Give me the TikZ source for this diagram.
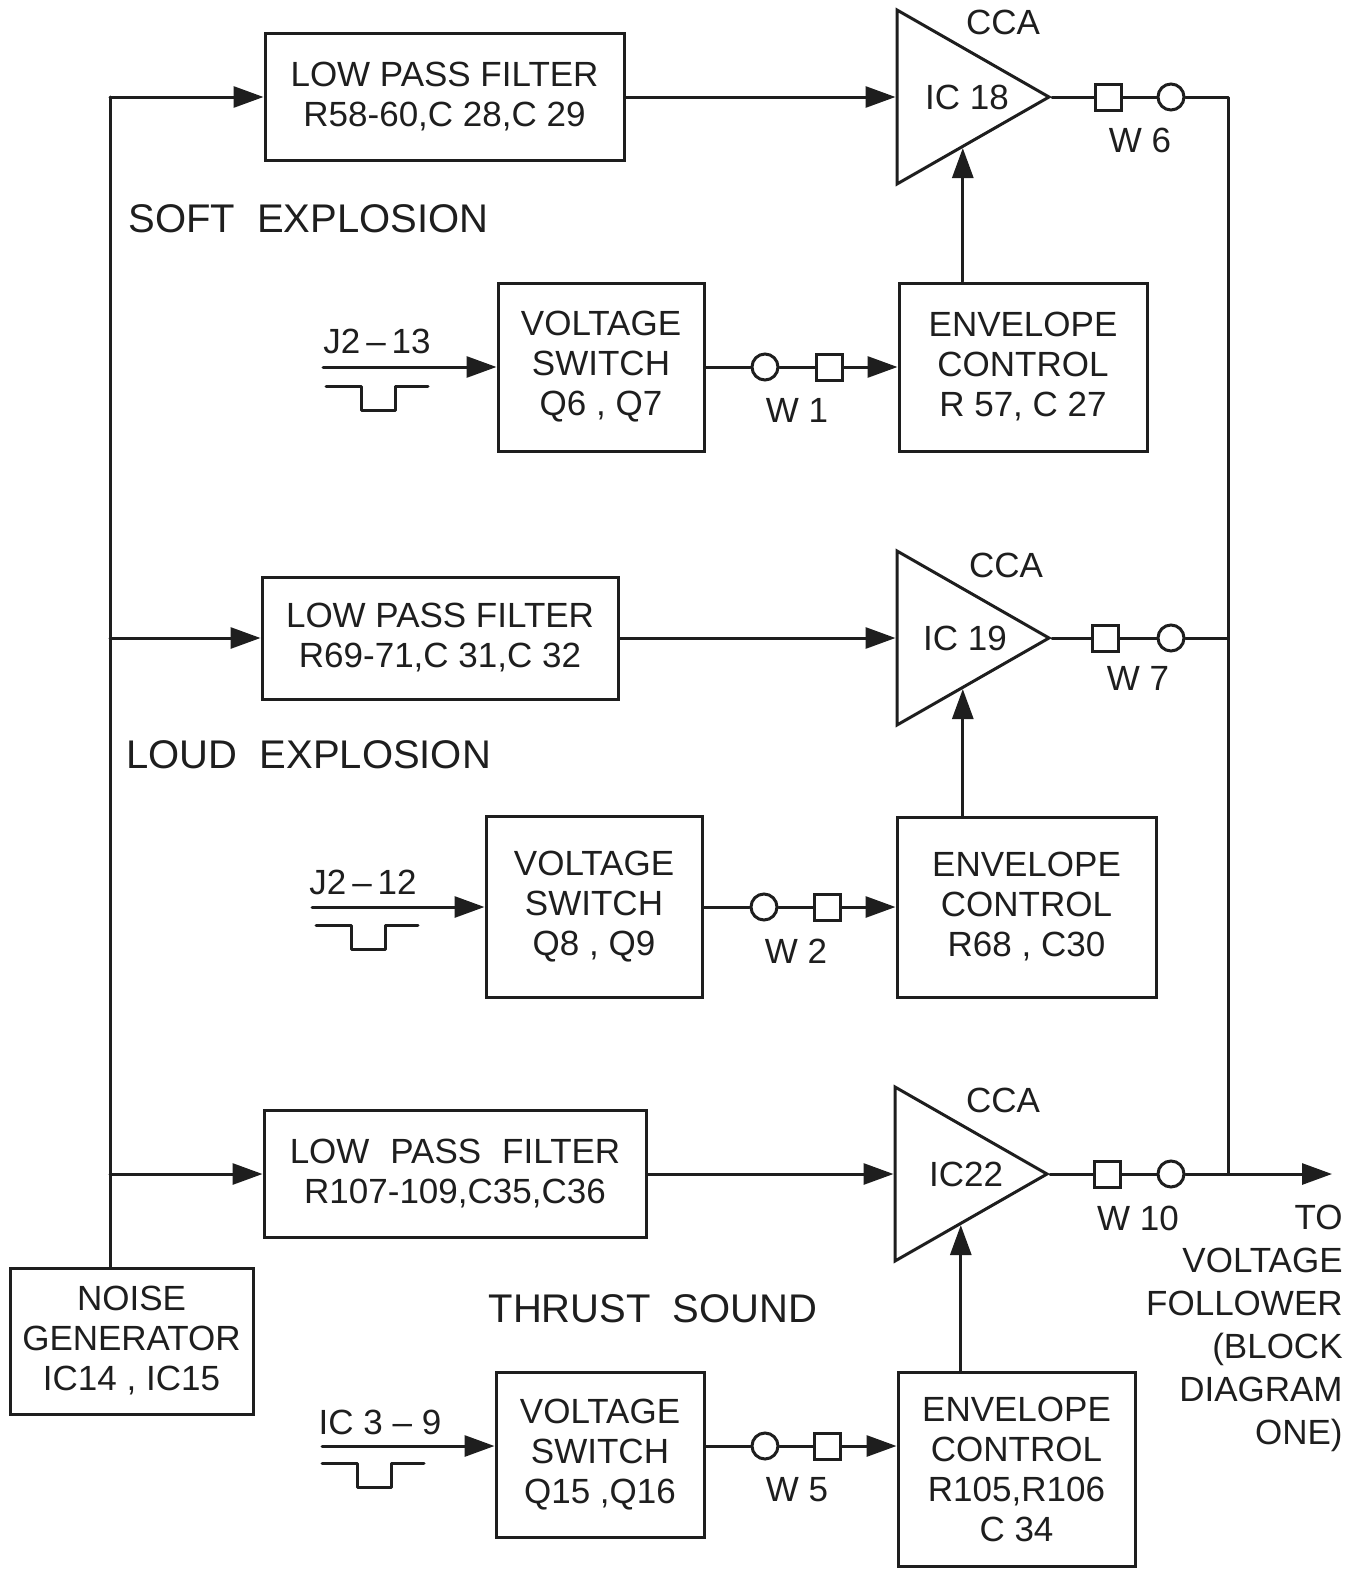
\documentclass[tikz,border=0pt]{standalone}
\usepackage{fontspec}
\setmainfont{Liberation Sans}
\usepackage{xcolor}
\usetikzlibrary{calc,arrows.meta,shapes.geometric}
\definecolor{ink}{HTML}{1E1E1E}
\definecolor{paper}{HTML}{FFFFFF}
\tikzset{
  wire/.style={draw=ink, line width=1.5pt, line cap=round, line join=round},
  conn/.style={wire, -{Triangle[length=15pt,width=10.5pt]}},
  blk/.style={draw=ink, line width=1.5pt, align=center, inner sep=0pt, text=ink, font=\fontsize{17.5}{20}\selectfont},
  amp/.style={draw=ink, line width=1.5pt, isosceles triangle, isosceles triangle apex angle=60,
    isosceles triangle stretches, minimum width=87pt, minimum height=76pt, inner sep=0pt},
  jsq/.style={draw=ink, fill=paper, line width=1.5pt, minimum size=13pt, inner sep=0pt},
  jring/.style={draw=ink, fill=paper, circle, line width=1.5pt, minimum size=13pt, inner sep=0pt},
  lab/.style={text=ink, inner sep=0pt, font=\fontsize{17.5}{20}\selectfont},
  head/.style={text=ink, inner sep=0pt, font=\fontsize{20}{24}\selectfont},
}
\begin{document}
\begin{tikzpicture}[x=0.5pt,y=-0.5pt]
  \path[fill=paper, use as bounding box] (0,0) rectangle (1360,1569);

  % noise source and feed bus
  \node[blk, minimum width=121.5pt, minimum height=73pt] (noise) at (131.5,1341) {NOISE\\GENERATOR\\IC14 , IC15};
  \coordinate (busA) at (110,97);
  \coordinate (busB) at (110,638);
  \coordinate (busC) at (110,1174);
  \draw[wire] (busA |- noise.north) -- (busA);

  % soft explosion
  \node[blk, minimum width=179.5pt, minimum height=63.5pt] (lpfA) at (444.5,97) {LOW PASS FILTER\\R58-60,C 28,C 29};
  \node[amp, anchor=apex] (ccaA) at (1052,97) {};
  \node[lab] (icA) at (967,97) {IC 18};
  \node[lab] (capA) at (1003,22) {CCA};
  \node[jsq] (sqA) at (1108,97) {};
  \node[jring] (ringA) at (1171,97) {};
  \node[lab] (wA) at (1140,140) {W 6};
  \node[head, anchor=west] (soft) at (128,219) {SOFT\ \ EXPLOSION};
  \node[blk, minimum width=103pt, minimum height=84pt] (vswA) at (601,367) {VOLTAGE\\SWITCH\\Q6 , Q7};
  \node[blk, minimum width=124pt, minimum height=84pt] (envA) at (1023,367) {ENVELOPE\\CONTROL\\R 57, C 27};
  \node[jring] (rinA) at (765,367) {};
  \node[jsq] (sinA) at (829,367) {};
  \node[lab] (w1) at (797,410) {W 1};
  \node[lab] (jA) at (377,341) {J2\,–\,13};
  \coordinate (inA) at (323,367);
  \coordinate (pulseA) at (326,386);

  \draw[conn] (busA) -- (lpfA.west);
  \draw[conn] (lpfA.east) -- (ccaA.west);
  \draw[wire] (ccaA.apex) -- (sqA) -- (ringA);
  \draw[conn] (inA) -- (vswA.west);
  \draw[wire] (vswA.east) -- (rinA) -- (sinA);
  \draw[conn] (sinA) -- (envA.west);
  \coordinate (hitA) at ($(ccaA.apex)!0.57!(ccaA.right corner)$);
  \draw[conn] (hitA |- envA.north) -- (hitA);

  % loud explosion
  \node[blk, minimum width=178pt, minimum height=61pt] (lpfB) at (440,638) {LOW PASS FILTER\\R69-71,C 31,C 32};
  \node[amp, anchor=apex] (ccaB) at (1052,638) {};
  \node[lab] (icB) at (965,638) {IC 19};
  \node[lab] (capB) at (1006,565) {CCA};
  \node[jsq] (sqB) at (1105,638) {};
  \node[jring] (ringB) at (1171,638) {};
  \node[lab] (wB) at (1138,678) {W 7};
  \node[head, anchor=west] (loud) at (126,755) {LOUD\ \ EXPLOSION};
  \node[blk, minimum width=108pt, minimum height=90.5pt] (vswB) at (594,907) {VOLTAGE\\SWITCH\\Q8 , Q9};
  \node[blk, minimum width=129.5pt, minimum height=90pt] (envB) at (1026.5,907) {ENVELOPE\\CONTROL\\R68 , C30};
  \node[jring] (rinB) at (764,907) {};
  \node[jsq] (sinB) at (827,907) {};
  \node[lab] (w2) at (796,951) {W 2};
  \node[lab] (jB) at (363,882) {J2\,–\,12};
  \coordinate (inB) at (312,907);
  \coordinate (pulseB) at (316,925);

  \draw[conn] (busB) -- (lpfB.west);
  \draw[conn] (lpfB.east) -- (ccaB.west);
  \draw[wire] (ccaB.apex) -- (sqB) -- (ringB);
  \draw[conn] (inB) -- (vswB.west);
  \draw[wire] (vswB.east) -- (rinB) -- (sinB);
  \draw[conn] (sinB) -- (envB.west);
  \coordinate (hitB) at ($(ccaB.apex)!0.57!(ccaB.right corner)$);
  \draw[conn] (hitB |- envB.north) -- (hitB);

  % thrust sound
  \node[blk, minimum width=191pt, minimum height=63.5pt] (lpfC) at (455,1174) {LOW\hspace{0.6em}PASS\hspace{0.6em}FILTER\\R107-109,C35,C36};
  \node[amp, anchor=apex] (ccaC) at (1050,1174) {};
  \node[lab] (icC) at (966,1174) {IC22};
  \node[lab] (capC) at (1003,1100) {CCA};
  \node[jsq] (sqC) at (1107,1174) {};
  \node[jring] (ringC) at (1171,1174) {};
  \node[lab] (wC) at (1138,1218) {W 10};
  \node[head] (thrust) at (653,1309) {THRUST\ \ SOUND};
  \node[blk, minimum width=104pt, minimum height=82.5pt] (vswC) at (600,1454.5) {VOLTAGE\\SWITCH\\Q15 ,Q16};
  \node[blk, minimum width=118.5pt, minimum height=97pt] (envC) at (1016.5,1469) {ENVELOPE\\CONTROL\\R105,R106\\C 34};
  \node[jring] (rinC) at (765,1446) {};
  \node[jsq] (sinC) at (827,1446) {};
  \node[lab] (w5) at (797,1490) {W 5};
  \node[lab] (jC) at (380,1422) {IC 3 – 9};
  \coordinate (inC) at (322,1446);
  \coordinate (pulseC) at (322,1463);

  \draw[conn] (busC) -- (lpfC.west);
  \draw[conn] (lpfC.east) -- (ccaC.west);
  \draw[wire] (ccaC.apex) -- (sqC) -- (ringC);
  \draw[conn] (inC) -- (inC -| vswC.west);
  \draw[wire] (rinC -| vswC.east) -- (rinC) -- (sinC);
  \draw[conn] (sinC) -- (sinC -| envC.west);
  \coordinate (hitC) at ($(ccaC.apex)!0.57!(ccaC.right corner)$);
  \draw[conn] (hitC |- envC.north) -- (hitC);

  % trigger pulses
  \foreach \p in {pulseA,pulseB,pulseC}
    \draw[wire] (\p) -- ++(35,0) -- ++(0,24) -- ++(34,0) -- ++(0,-24) -- ++(33,0);

  % summing rail and output
  \coordinate (railA) at (1228,97);
  \coordinate (railB) at (1228,638);
  \coordinate (railC) at (1228,1174);
  \coordinate (out) at (1332,1174);
  \draw[wire] (ringA) -- (railA) -- (railC);
  \draw[wire] (ringB) -- (railB);
  \draw[conn] (ringC) -- (out);
  \node[lab, align=right, anchor=north east, font=\fontsize{17.5}{21.5}\selectfont] (dest) at (1343,1205)
    {TO\\VOLTAGE\\FOLLOWER\\(BLOCK\\DIAGRAM\\ONE)};
\end{tikzpicture}
\end{document}
